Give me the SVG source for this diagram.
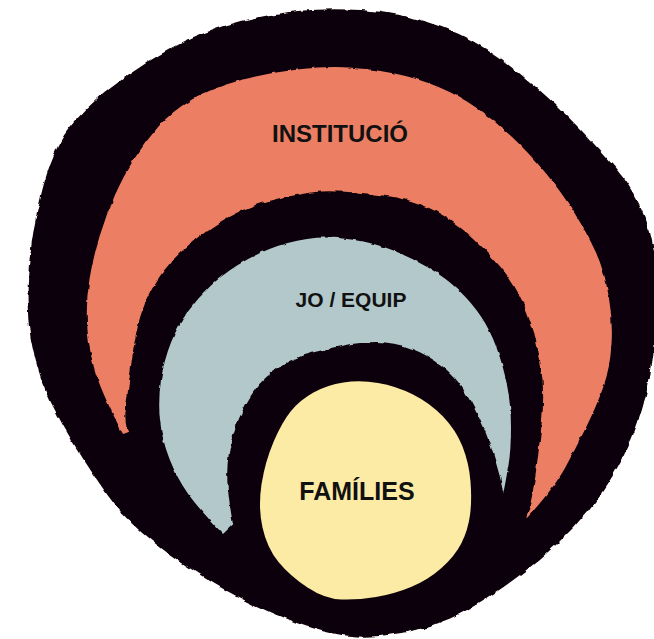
<svg xmlns="http://www.w3.org/2000/svg" width="654" height="639" viewBox="0 0 654 639">
  <defs>
    <filter id="rough" x="-5%" y="-5%" width="110%" height="110%">
      <feTurbulence type="fractalNoise" baseFrequency="0.09" numOctaves="2" seed="3" result="n"/>
      <feDisplacementMap in="SourceGraphic" in2="n" scale="5" xChannelSelector="R" yChannelSelector="G"/>
    </filter>
    <filter id="roughSoft" x="-5%" y="-5%" width="110%" height="110%">
      <feTurbulence type="fractalNoise" baseFrequency="0.12" numOctaves="2" seed="7" result="n"/>
      <feDisplacementMap in="SourceGraphic" in2="n" scale="3" xChannelSelector="R" yChannelSelector="G"/>
    </filter>
  </defs>
  <style>
    .ink { fill: #110308; }
    .salmon { fill: #EC7E64; }
    .blue { fill: #B2C8CA; }
    .yellow { fill: #FCEBA4; }
    .label { font-family: "Liberation Sans", Arial, sans-serif; font-weight: bold; fill: #111; text-anchor: middle; }
  </style>
  <rect width="654" height="639" fill="#ffffff"/>

  <g id="institucio">
    <path class="ink" filter="url(#rough)" d="M 297.5,11 Q 327,8 360.5,10 Q 394,12 427,22 Q 460,32 486,49 Q 512,66 536,87 Q 560,108 580,129 Q 600,150 615,167.5 Q 630,185 641,207.5 Q 652,230 656,265 Q 660,300 654,350 Q 648,400 631.5,439 Q 615,478 587.5,511.5 Q 560,545 520,575 Q 480,605 450,618.5 Q 420,632 380,636 Q 340,640 294,622 Q 248,604 214,583.5 Q 180,563 152.5,541.5 Q 125,520 107.5,495 Q 90,470 76,447.5 Q 62,425 51,402.5 Q 40,380 33,350 Q 26,320 28,280 Q 30,240 41,195 Q 52,150 68.5,129 Q 85,108 106,91.5 Q 127,75 148.5,61.5 Q 170,48 192.5,38 Q 215,28 241.5,21 Q 268,14 297.5,11 Z"/>
    <path class="salmon" filter="url(#roughSoft)" d="M 123,434 Q 100,390 94,367.5 Q 88,345 87,322.5 Q 86,300 89.5,279 Q 93,258 99.5,236.5 Q 106,215 115,195 Q 124,175 134.5,158.5 Q 145,142 158.5,126.5 Q 172,111 192,99.5 Q 212,88 239.5,80.5 Q 267,73 297,69.5 Q 327,66 349.5,67.5 Q 372,69 394.5,73.5 Q 417,78 438.5,87 Q 460,96 477.5,108.5 Q 495,121 511.5,136.5 Q 528,152 544,171 Q 560,190 573.5,211.5 Q 587,233 595.5,251.5 Q 604,270 608.5,295 Q 613,320 611.5,344 Q 610,368 603.5,386.5 Q 597,405 586.5,426.5 Q 576,448 565,468 Q 554,488 527,518 L 440,420 L 220,400 Z"/>
    <text class="label" x="340" y="142" font-size="24">INSTITUCIÓ</text>
  </g>

  <g id="equip">
    <path class="ink" filter="url(#rough)" d="M 151.5,482 Q 123,434 125.5,412 Q 128,390 130.5,370 Q 133,350 136,334 Q 139,318 145,303.5 Q 151,289 160,276 Q 169,263 182,251 Q 195,239 211.5,227.5 Q 228,216 246.5,208.5 Q 265,201 282.5,197.5 Q 300,194 315,192 Q 330,190 362,193 Q 394,196 411,201 Q 428,206 444,216 Q 460,226 474,239 Q 488,252 501,267.5 Q 514,283 522.5,301.5 Q 531,320 536,340 Q 541,360 542.5,380 Q 544,400 542,420 Q 540,440 537,463.5 Q 534,487 530.5,503.5 Q 527,520 513.5,547.5 Q 500,575 465,595 Q 430,615 385,616.5 Q 340,618 295,603 Q 250,588 215,559 Q 180,530 151.5,482 Z"/>
    <path class="blue" filter="url(#roughSoft)" d="M 223,534 Q 198,508 187.5,493 Q 177,478 169.5,459 Q 162,440 160,420 Q 158,400 161,380 Q 164,360 171,342.5 Q 178,325 188,311.5 Q 198,298 210,286.5 Q 222,275 237,265.5 Q 252,256 269.5,249 Q 287,242 307,239 Q 327,236 351,239.5 Q 375,243 393.5,250.5 Q 412,258 429,268 Q 446,278 459,290.5 Q 472,303 481,316.5 Q 490,330 496.5,347.5 Q 503,365 507,385 Q 511,405 511,427.5 Q 511,450 508.5,465 Q 506,480 503,495 L 380,440 L 300,460 Z"/>
    <text class="label" x="351" y="307" font-size="21">JO / EQUIP</text>
  </g>

  <g id="families">
    <path class="ink" filter="url(#rough)" d="M 228,490 Q 226,470 229,452.5 Q 232,435 239,418.5 Q 246,402 255.5,389 Q 265,376 281.5,366 Q 298,356 312.5,352.5 Q 327,349 343.5,345.5 Q 360,342 377,342 Q 394,342 411,348.5 Q 428,355 441.5,365.5 Q 455,376 463.5,389.5 Q 472,403 479,417.5 Q 486,432 491,447 Q 496,462 500,477 Q 504,492 504.5,511 Q 505,530 492.5,557.5 Q 480,585 450,605 Q 420,625 380,626.5 Q 340,628 305,614 Q 270,600 255,580 Q 240,560 235,535 Q 230,510 228,490 Z"/>
    <path class="yellow" d="M 343.5,382.5 Q 360,380 378,383 Q 396,386 413,394.5 Q 430,403 443,416.5 Q 456,430 462.5,446.5 Q 469,463 470.5,481.5 Q 472,500 470,515 Q 468,530 461.5,543 Q 455,556 441.5,568 Q 428,580 411,587 Q 394,594 376,597 Q 358,600 341.5,599.5 Q 325,599 307.5,587.5 Q 290,576 278.5,562 Q 267,548 262.5,527.5 Q 258,507 261.5,484.5 Q 265,462 273.5,442 Q 282,422 291,411 Q 300,400 313.5,392.5 Q 327,385 343.5,382.5 Z"/>
    <text class="label" x="357" y="500" font-size="25">FAMÍLIES</text>
  </g>
</svg>
